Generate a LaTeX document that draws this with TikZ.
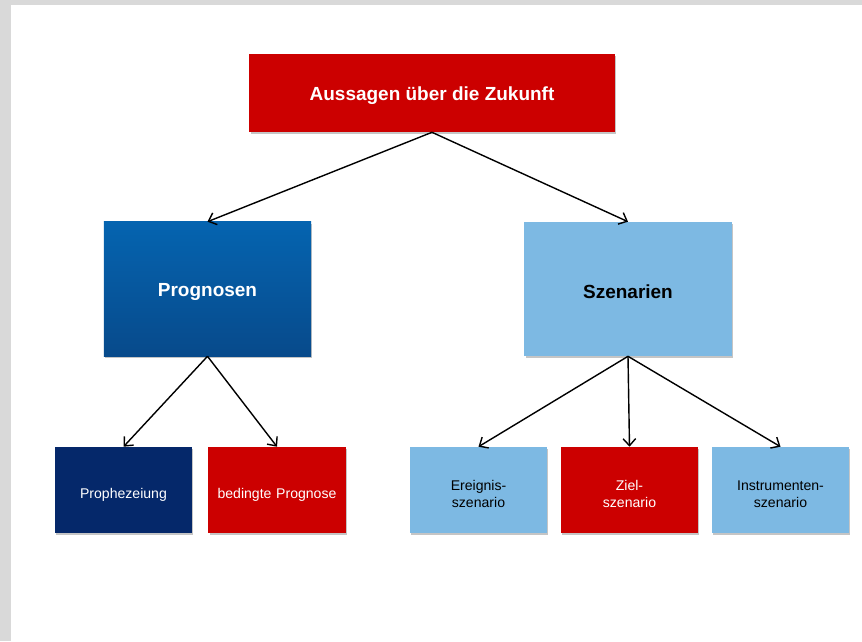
\documentclass[tikz,border=0pt]{standalone}
\usepackage{fontspec}
\setmainfont{Liberation Sans}
\usetikzlibrary{arrows.meta, shadows}
\definecolor{rot}{HTML}{CC0000}
\definecolor{hellblau}{HTML}{7DB9E3}
\definecolor{dunkelblau}{HTML}{05286A}
\definecolor{blauoben}{HTML}{0564B0}
\definecolor{blauunten}{HTML}{074A8B}
\definecolor{rahmen}{HTML}{D9D9D9}
\tikzstyle{box} = [rectangle, inner sep=0pt, text centered, drop shadow={shadow xshift=0.8pt, shadow yshift=-1.2pt, opacity=0.45}]
\tikzstyle{head} = [box, minimum width=9.125cm, minimum height=1.95cm, fill=rot, text=white, text height=13.5pt, font=\fontsize{13.5}{16}\selectfont\bfseries]
\tikzstyle{main} = [box, minimum width=5.175cm, minimum height=3.35cm, text height=13.5pt, font=\fontsize{13.5}{16}\selectfont\bfseries]
\tikzstyle{leaf} = [box, minimum width=3.425cm, minimum height=2.15cm, text width=3.2cm, text height=13.5pt, font=\fontsize{10}{12}\selectfont]
\tikzstyle{arrow} = [line width=1pt,-{Straight Barb[length=5pt,width=9pt]}]

\begin{document}
\begin{tikzpicture}[x=0.025cm, y=-0.025cm]
        % frame
        \fill[rahmen] (0,0) rectangle (862,641);
        \fill[white] (11,5) rectangle (862,641);
        \useasboundingbox (0,0) rectangle (862,641);

        \node (zukunft) [head] at (432,93) {Aussagen über die Zukunft};
        \node (prognosen) [main, top color=blauoben, bottom color=blauunten, text=white] at (207.5,289) {Prognosen};
        \node (szenarien) [main, fill=hellblau, text=black] at (628,289) {Szenarien};

        \node (prophezeiung) [leaf, fill=dunkelblau, text=white] at (123.5,490) {Prophezeiung};
        \node (bedingt) [leaf, fill=rot, text=white] at (277,490) {bedingte Prognose};
        \node (ereignis) [leaf, fill=hellblau, text=black] at (478.5,490) {Ereignis-\\szenario};
        \node (ziel) [leaf, fill=rot, text=white] at (629.5,490) {Ziel-\\szenario};
        \node (instrument) [leaf, fill=hellblau, text=black] at (780.5,490) {Instrumenten-\\szenario};

        \draw [arrow] (zukunft.south) -- (prognosen.north);
        \draw [arrow] (zukunft.south) -- (szenarien.north);
        \draw [arrow] (prognosen.south) -- (prophezeiung.north);
        \draw [arrow] (prognosen.south) -- (bedingt.north);
        \draw [arrow] (szenarien.south) -- (ereignis.north);
        \draw [arrow] (szenarien.south) -- (ziel.north);
        \draw [arrow] (szenarien.south) -- (instrument.north);

    \end{tikzpicture}
\end{document}
